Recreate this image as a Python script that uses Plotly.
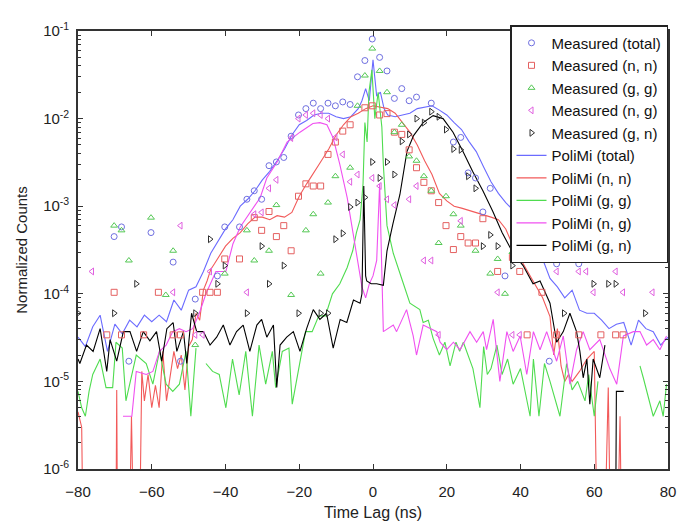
import plotly.graph_objects as go

# ---------------- Measured data (markers) ----------------
mt_x = [-70.2,-68.2,-66.2,-60.2,-54.2,-52.2,-48.2,-42.2,-40.2,-36.2,-34.2,-32.2,-30.2,-28.2,-26.2,-24.2,-22.2,-20.2,-18.2,-16.2,-14.2,-12.2,-10.2,-8.2,-6.2,-4.2,-2.2,-0.2,1.8,3.8,5.8,7.8,9.8,11.8,15.8,21.8,23.8,25.8,27.8,29.8,31.8,35.8,47.8,49.8,55.8]
mt_y = [4.5e-4,5.8e-4,1.7e-5,5.0e-4,2.3e-4,1.7e-5,8.7e-5,1.6e-4,5.8e-4,5.8e-4,1.2e-3,1.5e-3,1.2e-3,2.9e-3,3.2e-3,3.6e-3,6.3e-3,1.1e-2,1.3e-2,1.5e-2,1.3e-2,1.5e-2,1.4e-2,1.55e-2,1.45e-2,3.0e-2,4.6e-2,8.1e-2,5.0e-2,3.5e-2,1.7e-2,2.2e-2,1.6e-2,1.76e-2,1.5e-2,5.4e-3,6.1e-3,2.4e-3,2.1e-3,8.6e-4,1.6e-3,1.6e-4,1.7e-5,2.2e-4,2.2e-4]

mnn_x = [-72.2,-70.2,-68.2,-62.2,-58.2,-54.2,-52.2,-46.2,-44.2,-42.2,-40.2,-36.2,-32.2,-30.2,-28.2,-26.2,-24.2,-22.2,-20.2,-18.2,-16.2,-14.2,-12.2,-10.2,-8.2,-6.2,-2.2,-0.2,1.8,3.8,5.8,7.8,9.8,11.8,13.8,15.8,17.8,19.8,21.8,23.8,25.8,27.8,29.8,33.8,37.8,39.8,41.8,45.8,49.8,55.8,61.8,65.8,67.8]
mnn_y = [3.4e-5,1.04e-4,3.4e-5,3.4e-5,1.04e-4,3.4e-5,3.4e-5,1.04e-4,1.04e-4,1.04e-4,2.5e-4,2.5e-4,7.4e-4,5.3e-4,8.7e-4,4.5e-4,6.0e-4,3.1e-4,1.3e-3,1.8e-3,1.7e-3,1.7e-3,3.9e-3,5.4e-3,7.2e-3,8.5e-3,1.33e-2,1.4e-2,1.1e-2,1.14e-2,7.0e-3,6.6e-3,4.4e-3,2.75e-3,1.87e-3,1.5e-3,1.1e-3,6.0e-4,3.2e-4,4.5e-4,3.8e-4,3.8e-4,7.2e-4,1.8e-4,2.6e-4,1.8e-4,3.4e-5,1.04e-4,3.4e-5,3.4e-5,3.4e-5,3.4e-5,3.4e-5]

mgg_x = [-70.2,-68.2,-66.2,-60.2,-56.2,-54.2,-48.2,-40.2,-34.2,-32.2,-28.2,-26.2,-22.2,-18.2,-16.2,-14.2,-12.2,-10.2,-6.2,-4.2,-2.2,-0.2,1.8,3.8,5.8,7.8,9.8,11.8,13.8,15.8,17.8,19.8,21.8,23.8,27.8,31.8,33.8,35.8,37.8,59.8,69.8]
mgg_y = [6.0e-4,5.3e-4,2.4e-4,7.4e-4,9.7e-5,3.1e-4,2.6e-5,1.7e-4,5.3e-4,2.4e-4,3.1e-4,1.03e-3,9.7e-5,5.3e-4,8.1e-4,1.7e-4,1.1e-3,2.2e-3,2.75e-3,1.4e-2,3.1e-2,6.3e-2,3.5e-2,2.0e-2,7.0e-3,8.5e-3,3.7e-3,3.3e-3,2.2e-3,1.5e-3,3.8e-4,1.3e-3,8.1e-4,6.0e-4,3.1e-4,1.7e-4,2.5e-4,1.0e-4,3.0e-4,2.4e-4,3.1e-4]

mng_x = [-76.2,-54.2,-52.2,-48.2,-46.2,-44.2,-34.2,-32.2,-30.2,-28.2,-26.2,-22.2,-20.2,-18.2,-16.2,-14.2,-12.2,-10.2,-8.2,-6.2,-4.2,-0.2,1.8,3.8,5.8,9.8,11.8,13.8,15.8,17.8,23.8,33.8,37.8,39.8,49.8,51.8,55.8,57.8,59.8,65.8,67.8,75.8]
mng_y = [1.8e-4,1.04e-4,6.0e-4,3.4e-5,3.4e-5,1.8e-4,1.04e-4,8.1e-4,8.5e-4,1.6e-3,2.0e-3,6.0e-3,1.0e-2,1.1e-2,1.15e-2,1.1e-2,1.0e-2,6.1e-3,3.9e-3,1.9e-3,2.3e-3,2.1e-3,1.7e-3,1.2e-3,1.03e-3,1.2e-3,1.7e-3,2.4e-4,2.4e-4,3.4e-5,6.8e-4,1.04e-4,3.4e-5,3.4e-5,1.8e-4,2.6e-4,1.8e-4,1.8e-4,1.04e-4,1.8e-4,1.04e-4,1.04e-4]

mgn_x = [-80,-70.2,-64.2,-48.2,-44.2,-42.2,-40.2,-34.2,-30.2,-28.2,-24.2,-20.2,-14.2,-12.2,-10.2,-8.2,-6.2,-4.2,-2.2,-0.2,1.8,3.8,5.8,7.8,9.8,11.8,13.8,15.8,17.8,19.8,21.8,23.8,25.8,27.8,29.8,31.8,33.8,37.8,47.8,49.8,51.8,59.8,63.8,65.8,73.8]
mgn_y = [6.0e-5,6.0e-5,1.3e-4,6.0e-5,4.2e-4,1.3e-4,2.1e-4,6.0e-5,3.5e-4,1.3e-4,2.1e-4,6.0e-5,6.0e-5,6.0e-5,4.2e-4,4.9e-4,9.8e-4,1.1e-3,1.26e-3,3.2e-3,2.1e-3,3.2e-3,2.3e-3,5.5e-3,6.6e-3,1.0e-2,9.0e-3,1.2e-2,1.05e-2,7.5e-3,4.5e-3,4.4e-3,2.2e-3,1.6e-3,3.5e-4,4.7e-4,3.5e-4,2.1e-4,3.5e-4,2.8e-4,6.0e-5,1.3e-4,1.3e-4,1.3e-4,6.0e-5]

# ---------------- PoliMi simulation (lines) ----------------
# values of 1e-9 mark empty bins (drawn off the bottom of the log axis); None = gap
bl_x = [-80,-78,-76,-74,-72,-70,-68,-66,-64,-62,-60,-58,-56,-54,-52,-50,-48,-46,-44,-42,-40,-38,-36,-34,-32,-30,-28,-26,-24,-22,-20,-18,-16,-14,-12,-10,-8,-6,-4,-3,-2,-1,0,1,2,3,4,6,8,10,12,14,16,18,20,22,24,26,28,30,32,34,36,38,40,42,44,46,48,50,52,54,56,58,60,62,64,66,68,70,72,74,76,78,80]
bl_y = [3.2e-5,2.5e-5,4.2e-5,5.7e-5,2.2e-5,4.5e-5,3.5e-5,5.0e-5,4.2e-5,5.7e-5,4.8e-5,5.7e-5,4.8e-5,8.5e-5,6.5e-5,1.1e-4,1.2e-4,1.8e-4,2.9e-4,4.0e-4,5.5e-4,7.0e-4,1.0e-3,1.2e-3,1.5e-3,2.0e-3,2.5e-3,3.3e-3,4.5e-3,6.5e-3,8.5e-3,9.5e-3,1.1e-2,1.15e-2,1.15e-2,1.05e-2,1.0e-2,1.05e-2,1.3e-2,1.6e-2,2.2e-2,1.6e-2,4.7e-2,1.8e-2,2.0e-2,1.3e-2,1.1e-2,1.05e-2,1.1e-2,1.15e-2,1.3e-2,1.35e-2,1.4e-2,1.25e-2,1.1e-2,9.0e-3,7.5e-3,5.5e-3,4.2e-3,2.8e-3,1.9e-3,1.4e-3,1.1e-3,9.0e-4,7.4e-4,4.5e-4,3.5e-4,2.5e-4,1.5e-4,1.2e-4,9.0e-5,1.1e-4,6.5e-5,6.0e-5,6.0e-5,5.0e-5,4.0e-5,4.5e-5,4.7e-5,2.6e-5,5.0e-5,4.0e-5,3.7e-5,2.6e-5,3.2e-5]

rd_x = [-80,-79,-78,-70,-69.5,-69,-67,-65.5,-64,-62.7,-62,-61,-60,-59,-58,-57,-56,-55,-54,-53,-52,-51,-50,-49,-48,-47,-46,-45,-44,-43,-42,-40,-38,-36,-34,-32,-30,-28,-26,-24,-22,-20,-18,-16,-14,-12,-10,-8,-6,-4,-2,0,2,4,6,8,10,12,14,16,18,20,22,24,26,28,30,32,34,36,38,40,42,44,46,48,49,50,51,52,53,54,56,58,60,61.6,63.8,65.2,67,68,80]
rd_y = [4.5e-6,3.0e-6,1e-9,1e-9,8e-6,1e-9,1e-9,4e-6,1e-9,1.3e-5,6e-6,1.2e-5,5e-6,9e-6,5e-6,2.2e-5,6e-6,1.1e-5,2.2e-5,1.4e-5,2.0e-5,8e-6,2.5e-5,3e-5,6e-5,5e-5,1.1e-4,1.4e-4,1.9e-4,2.2e-4,2.6e-4,3.5e-4,4.3e-4,5.0e-4,6.3e-4,7.5e-4,7.5e-4,7.0e-4,7.8e-4,7.5e-4,8.5e-4,1.3e-3,1.8e-3,2.4e-3,3.3e-3,4.5e-3,6.5e-3,8.5e-3,1.05e-2,1.15e-2,1.3e-2,1.4e-2,1.35e-2,1.3e-2,1.15e-2,9.0e-3,7.0e-3,5.0e-3,3.3e-3,2.3e-3,1.4e-3,1.15e-3,1.0e-3,9.5e-4,9.0e-4,8.5e-4,8.0e-4,7.5e-4,7.0e-4,5.5e-4,3.5e-4,2.5e-4,1.8e-4,1.3e-4,9e-5,5.5e-5,2e-5,4e-5,1.5e-5,1e-5,1.2e-5,1e-5,1.3e-5,1.8e-5,2.2e-5,1e-9,8.5e-6,1e-9,4e-6,1e-9,1e-9]

gr_x = [-80,-79,-78,-77,-76,-74,-72.4,-70.6,-69.7,-68,-67,-64.2,-61.5,-59.7,-57.9,-56.1,-54.3,-52.5,-50.7,-49.4,-48,-46.5,-45.3,-43.5,-41.7,-39.9,-38.1,-36.3,-34.5,-32.7,-30.9,-29.1,-27.3,-26.4,-24.6,-22.8,-21.9,-20.1,-18.3,-16.5,-14.7,-12.9,-11,-9,-7,-5.5,-4.5,-3.5,-2.7,-2.2,-1.6,-1.1,-0.3,0.5,1.4,2.4,2.8,3.8,5.5,8,10,12.7,13.6,15,16.3,18,19.5,20.9,22.5,23.5,24.5,27.1,29,30,31,32,33.6,35,36.5,38,40,42.6,43.5,45,46.5,48,50.7,52.5,54,55.5,57.5,58.5,60,61,66,72.4,73.3,76,77.8,78.7,79.6]
gr_y = [7.7e-6,5e-6,4e-6,7.7e-6,1.2e-5,1.8e-5,8.5e-6,8.5e-6,2.8e-5,2.4e-5,6e-6,2e-5,1.6e-5,9.3e-6,2.2e-5,9.3e-6,7.7e-6,9.3e-6,2.2e-5,4e-6,2.4e-5,None,1.6e-5,1.3e-5,1.2e-5,5e-6,1.8e-5,7e-6,2.2e-5,4e-6,2.6e-5,9.3e-6,2.2e-5,8.5e-6,2.2e-5,2.4e-5,5.5e-6,1.4e-5,3.7e-5,3.7e-5,5.6e-5,5.6e-5,1.0e-4,1.3e-4,2.0e-4,3.1e-4,5e-4,7e-4,1.8e-3,9e-3,5.4e-3,2e-2,3.6e-2,1e-2,2e-2,8e-3,3e-3,6e-4,2.9e-4,1.4e-4,7.8e-5,6.6e-5,4.7e-5,5e-5,3.1e-5,2e-5,2.8e-5,1.5e-5,2.8e-5,2.2e-5,2.8e-5,1.4e-5,5e-6,2.5e-5,1.2e-5,1.4e-5,2.6e-5,1.2e-5,1.8e-5,9.3e-6,1.4e-5,4e-6,1.8e-5,4e-6,1.6e-5,1e-5,4e-6,1.6e-5,8e-6,1e-5,6e-6,1.2e-5,4e-6,1e-5,None,1.5e-5,1.1e-5,4e-6,6e-6,4e-6,9.3e-6]

mg_x = [-67.8,-65.4,-64.2,-61.5,-59.7,-57.9,-56.1,-54.3,-52.5,-50.7,-48.9,-47.1,-45.3,-42.6,-39.9,-38,-36,-34.2,-32.5,-30.6,-28.8,-26,-23.3,-19.8,-16.3,-14.4,-12.5,-10.8,-9,-7,-5.4,-4,-3,-2,-1,0,1,1.8,2.5,2.8,5.5,6.4,9.1,10.9,11.8,13.6,17.3,18.2,20,21.8,23.6,26.3,28.1,29.9,30.8,32.6,34.4,36.3,38,39.9,41.7,43.5,45.3,47.1,49.8,51.6,53.4,55.2,57,58.8,61.5,64.2,66.1,67.9,70.6,72.4,74.2,76,77.8,79.6]
mg_y = [4e-6,4e-6,1.3e-5,1.2e-5,1.3e-5,2.2e-5,2.6e-5,3.7e-5,4e-5,3.7e-5,4e-5,6e-5,1.0e-4,1.8e-4,1.8e-4,3.7e-4,5.8e-4,7.5e-4,9.6e-4,1.25e-3,2.1e-3,3.2e-3,5.4e-3,7.0e-3,8.8e-3,9.0e-3,8.5e-3,6.0e-3,3.0e-3,1.25e-3,4.9e-4,2.2e-4,1.2e-4,9e-5,1.3e-4,1.6e-4,2.4e-4,1.8e-3,1.2e-4,3.7e-5,4.4e-5,3.7e-5,6.6e-5,3.3e-5,2e-5,4.4e-5,3.7e-5,2.8e-5,2.3e-5,2.8e-5,2.3e-5,3.7e-5,2.8e-5,3.7e-5,2.3e-5,5.1e-5,1e-5,3.7e-5,2.2e-5,3.3e-5,1.2e-5,3.7e-5,2.3e-5,3.7e-5,1.7e-5,3.3e-5,9.3e-6,2.3e-5,3.7e-5,2.3e-5,3e-5,1.4e-5,9.3e-6,3.3e-5,3.7e-5,3.7e-5,2.6e-5,3e-5,2.3e-5,3.3e-5]

bk_x = [-80,-79.5,-77.7,-75.9,-74,-72.2,-71.3,-69.5,-67.7,-65.9,-64.1,-62.3,-60.5,-58.7,-57.3,-55.9,-54.2,-53.2,-51.4,-50.5,-49.2,-47.8,-46,-44.2,-42.4,-40.6,-38.8,-37,-35.2,-33.4,-31.5,-30.2,-28.8,-27,-26.1,-25.2,-23.4,-21.6,-19.8,-18,-16.2,-14.4,-12.6,-10.8,-8.9,-7.1,-5.3,-3.5,-3,-2.5,-2,-1.7,-0.5,1,2.8,3.8,5.4,7.3,9.2,11,13.6,16.3,19,21.7,24.4,27,29.8,32.5,35,38,40.7,43.4,45.3,48,49.8,51.6,53.4,55.2,56.1,57,58,58.8,59.7,61.5,62.9,64,65.5,66,68,69]
bk_y = [1.8e-5,1.6e-5,2.6e-5,2.2e-5,4e-5,1.3e-5,3e-5,1.7e-5,3.7e-5,3.7e-5,2.2e-5,3.7e-5,2.9e-5,3.7e-5,1.7e-5,4e-5,4.7e-5,2.2e-5,3.7e-5,1.6e-5,6e-5,3.7e-5,3.7e-5,2.6e-5,3.2e-5,4.4e-5,2.6e-5,3.7e-5,4.4e-5,2.2e-5,4.4e-5,5.1e-5,3.2e-5,4.4e-5,8.5e-6,2.6e-5,3.2e-5,3.7e-5,2.2e-5,4e-5,6.6e-5,5.1e-5,6e-5,2.4e-5,5.1e-5,4.7e-5,8.5e-5,7.8e-5,1.0e-4,1.7e-3,1.6e-4,1.4e-4,1.3e-4,1.3e-4,1.25e-4,3.1e-4,6.3e-4,1.36e-3,4.2e-3,6.4e-3,9.0e-3,1.08e-2,1.0e-2,7.0e-3,4.2e-3,2.5e-3,1.5e-3,8.7e-4,5.0e-4,2.9e-4,2.1e-4,1.3e-4,1.4e-4,7.8e-5,2.8e-5,3.7e-5,6e-5,3.7e-5,2.2e-5,1.1e-5,1.8e-5,5.5e-6,1.8e-5,1.1e-5,2.6e-5,None,1e-9,7.7e-6,7.7e-6,None]

y_ticks = [1e-6, 1e-5, 1e-4, 1e-3, 1e-2, 1e-1]
y_tick_text = ["10<sup>-6</sup>", "10<sup>-5</sup>", "10<sup>-4</sup>", "10<sup>-3</sup>", "10<sup>-2</sup>", "10<sup>-1</sup>"]
x_ticks = [-80, -60, -40, -20, 0, 20, 40, 60, 80]

FONT = "Liberation Sans, Arial, sans-serif"

fig = go.Figure()

lines = [
    ("PoliMi (total)", bl_x, bl_y, "#6b6bff"),
    ("PoliMi (n, n)", rd_x, rd_y, "#f25a5a"),
    ("PoliMi (g, g)", gr_x, gr_y, "#4fdc4f"),
    ("PoliMi (n, g)", mg_x, mg_y, "#f050f0"),
    ("PoliMi (g, n)", bk_x, bk_y, "#000000"),
]
for i, (name, xs, ys, col) in enumerate(lines):
    fig.add_trace(go.Scatter(x=xs, y=ys, mode="lines", name=name,
                             line=dict(color=col, width=1.1),
                             legendrank=100 + i))

markers = [
    ("Measured (total)", mt_x, mt_y, "#6f6fe0", "circle-open"),
    ("Measured (n, n)", mnn_x, mnn_y, "#e46060", "square-open"),
    ("Measured (g, g)", mgg_x, mgg_y, "#55c855", "triangle-up-open"),
    ("Measured (n, g)", mng_x, mng_y, "#e060e0", "triangle-left-open"),
    ("Measured (g, n)", mgn_x, mgn_y, "#303030", "triangle-right-open"),
]
for i, (name, xs, ys, col, sym) in enumerate(markers):
    fig.add_trace(go.Scatter(x=xs, y=ys, mode="markers", name=name,
                             marker=dict(symbol=sym, size=6, color=col,
                                         line=dict(color=col, width=1)),
                             legendrank=i))

minor_vals = [m * 10.0 ** e for e in range(-6, -1) for m in range(2, 10)]

# the page adds an 8px body margin, so the margins below are 8px smaller on the left/top
fig.update_layout(
    width=688, height=523,
    margin=dict(l=70, r=28, t=16, b=62),
    paper_bgcolor="white", plot_bgcolor="white",
    font=dict(family=FONT, size=15, color="#222222"),
    showlegend=True,
    legend=dict(x=1, xanchor="right", y=1.0135, yanchor="top",
                bgcolor="white", bordercolor="#222222", borderwidth=1.5,
                font=dict(family=FONT, size=15, color="#111111"),
                tracegroupgap=0, itemwidth=30),
)
fig.update_xaxes(
    range=[-80, 80], tickvals=x_ticks, ticks="inside", ticklen=5,
    tickcolor="#333333", showline=True, linecolor="#333333", linewidth=1.6,
    mirror="ticks", showgrid=False, zeroline=False, ticklabelstandoff=8,
    title=dict(text="Time Lag (ns)", standoff=8, font=dict(size=16)),
    tickfont=dict(size=15),
)
fig.update_yaxes(
    type="log", range=[-6, -1], tickvals=y_ticks, ticktext=y_tick_text,
    ticks="inside", ticklen=5, tickcolor="#333333",
    minor=dict(tickvals=minor_vals, ticks="inside", ticklen=3, tickcolor="#333333", showgrid=False),
    showline=True, linecolor="#333333", linewidth=1.6, mirror="ticks",
    showgrid=False, zeroline=False, ticklabelstandoff=4,
    title=dict(text="Normalized Counts", standoff=12, font=dict(size=15)),
    tickfont=dict(size=15),
)

fig.write_html("out.html")
